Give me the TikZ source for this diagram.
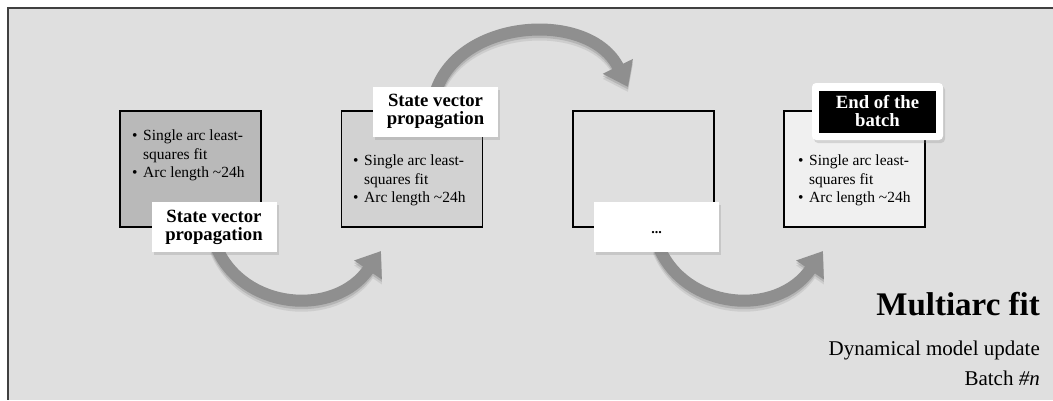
\documentclass[tikz,border=0pt]{standalone}
\usepackage{fontspec}
\setmainfont{Liberation Serif}
\usetikzlibrary{arrows.meta,shadows}

\definecolor{canvasgray}{HTML}{DFDFDF}
\definecolor{arrowgray}{HTML}{8F8F8F}
\definecolor{arcdark}{HTML}{B9B9B9}
\definecolor{arcmid}{HTML}{D2D2D2}
\definecolor{arclight}{HTML}{F0F0F0}

\pgfdeclarelayer{canvas}
\pgfdeclarelayer{flow}
\pgfsetlayers{canvas,flow,main}

% bullet list shared by the arc boxes
\newcommand{\arcnotes}{\makebox[11pt][l]{\textbullet}Single arc least-\\
  \hspace*{11pt}squares fit\\
  \makebox[11pt][l]{\textbullet}Arc length \textasciitilde24h}

% the three curved hops, style given as argument
\newcommand{\hoppaths}[1]{%
  \draw[#1] ([xshift=2pt,yshift=6pt]lab1.south) .. controls +(26,64) and +(-46,67) .. (land1);
  \draw[#1] ([yshift=-6pt]lab2.north) .. controls +(24,-75) and +(-38,-77) .. (land2);
  \draw[#1] ([xshift=2pt,yshift=6pt]lab3.south) .. controls +(26,64) and +(-46,67) .. (land3);
}

\begin{document}
\begin{tikzpicture}[x=1pt, y=-1pt,
    stage/.style={draw, line width=1.8pt, minimum width=141pt, minimum height=116pt},
    notes/.style={anchor=north west, inner sep=0pt, align=left, font=\fontsize{15.5}{18.5}\selectfont},
    tag/.style={fill=white, minimum width=125pt, minimum height=50pt, align=center, inner sep=2pt,
        font=\bfseries\fontsize{18.7}{18}\selectfont,
        drop shadow={shadow xshift=2pt, shadow yshift=-3pt, opacity=.25}},
    hop/.style={draw=arrowgray, line width=12pt, -{Triangle[length=23pt, width=32pt]}},
    hopshade/.style={draw=black, line width=12pt, -{Triangle[length=23pt, width=32pt]}}
]
    \useasboundingbox (0,0) rectangle (1053,400);

    \begin{pgfonlayer}{canvas}
        \fill[canvasgray] (8,8) rectangle (1053,400);
        \draw[black!75, line width=1.5pt] (1053,8) -- (8,8) -- (8,400);
    \end{pgfonlayer}

    % arc boxes
    \node[stage, fill=arcdark] (box1) at (190.5,169) {};
    \node[stage, fill=arcmid] (box2) at (412,169) {};
    \node[stage] (box3) at (643.5,169) {};
    \node[stage, fill=arclight] (box4) at (854.5,169) {};

    \node[notes] (notes1) at (132,130) {\arcnotes};
    \node[notes] (notes2) at (353,155) {\arcnotes};
    \node[notes] (notes4) at (798,155) {\arcnotes};

    % labels on the boxes
    \node[tag] (lab1) at (214,227) {State vector\\propagation};
    \node[tag] (lab2) at (435.5,111.5) {State vector\\propagation};
    \node[tag, text height=12pt, text depth=0pt, font=\bfseries\fontsize{14}{14}\selectfont] (lab3) at (656.5,227) {...};
    \node[tag, rounded corners=4pt, minimum width=131pt, minimum height=57pt] (endframe) at (877.5,111.5) {};
    \node[fill=black, text=white, minimum width=117pt, minimum height=42pt, align=center, inner sep=0pt,
        font=\bfseries\fontsize{18.7}{18}\selectfont] (endtag) at (endframe.center) {End of the\\batch};

    \coordinate (land1) at (381,251);
    \coordinate (land2) at (628,87);
    \coordinate (land3) at (823,251);

    % curved hops with a soft shadow, kept under the labels
    \begin{pgfonlayer}{flow}
        \begin{scope}[transform canvas={yshift=-5pt}]
            \begin{scope}[transparency group, opacity=.08]
                \hoppaths{hopshade}
            \end{scope}
        \end{scope}
        \begin{scope}[transform canvas={yshift=-2.5pt}]
            \begin{scope}[transparency group, opacity=.12]
                \hoppaths{hopshade}
            \end{scope}
        \end{scope}
        \hoppaths{hop}
    \end{pgfonlayer}

    \node[anchor=base east, inner sep=0pt, font=\bfseries\fontsize{33}{33}\selectfont] (title) at (1040,315) {Multiarc fit};
    \node[anchor=base east, inner sep=0pt, font=\fontsize{21}{21}\selectfont] (model) at (1040,355) {Dynamical model update};
    \node[anchor=base east, inner sep=0pt, font=\fontsize{21}{21}\selectfont] (batch) at (1040,385) {Batch \textit{\#n}};
\end{tikzpicture}
\end{document}
